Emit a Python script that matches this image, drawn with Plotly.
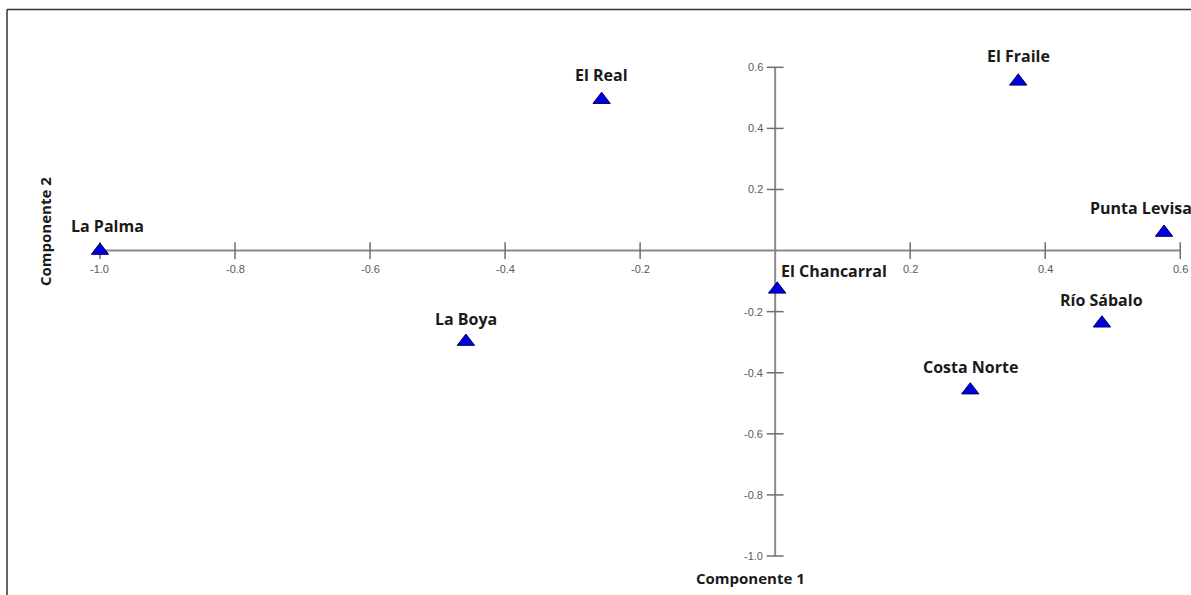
import plotly.graph_objects as go

# ---- data ----
sites = ["La Palma", "El Real", "El Fraile", "Punta Levisa", "El Chancarral",
         "Río Sábalo", "La Boya", "Costa Norte"]
comp1 = [-1.0, -0.257, 0.360, 0.576, 0.003, 0.484, -0.458, 0.289]
comp2 = [0.0, 0.494, 0.554, 0.059, -0.127, -0.238, -0.298, -0.457]

x_ticks = [-1.0, -0.8, -0.6, -0.4, -0.2, 0.2, 0.4, 0.6]
x_tick_labels = ["-1.0", "-0.8", "-0.6", "-0.4", "-0.2", "0.2", "0.4", "0.6"]
y_ticks = [0.6, 0.4, 0.2, -0.2, -0.4, -0.6, -0.8, -1.0]
y_tick_labels = ["0.6", "0.4", "0.2", "-0.2", "-0.4", "-0.6", "-0.8", "-1.0"]

x_title = "Componente 1"
y_title = "Componente 2"

# ---- styling ----
W, H = 1191, 595
ML, MR, MT, MB = 70, 0, 20, 35
XR = [-1.0444, 0.6159]
YR = [-1.0131, 0.7549]
pw = W - ML - MR
ph = H - MT - MB

label_font = dict(family="Open Sans", size=16, color="#1a1a1a")
tick_font = dict(family="Liberation Sans", size=11, color="#5a5a5a")
axis_color = "#8a8a8a"
tick_color = "#6e6e6e"

# per-label offsets (xshift, yshift, xanchor)
label_style = {
    "La Palma": (8, 25, "center"),
    "Punta Levisa": (-23, 25, "center"),
    "El Chancarral": (2, 18, "left"),
    "El Fraile": (0, 25, "center"),
    "El Real": (0, 25, "center"),
}
default_style = (0, 23, "center")

fig = go.Figure()

# axis lines through the origin, spanning the tick ranges
fig.add_shape(type="line", x0=min(x_ticks), x1=max(x_ticks), y0=0, y1=0,
              line=dict(color=axis_color, width=2), layer="below")
fig.add_shape(type="line", x0=0, x1=0, y0=min(y_ticks), y1=max(y_ticks),
              line=dict(color=axis_color, width=2), layer="below")

# tick marks
fig.add_trace(go.Scatter(x=x_ticks, y=[0] * len(x_ticks), mode="markers",
                         marker=dict(symbol="line-ns", size=12,
                                     line=dict(color=tick_color, width=1.5)),
                         hoverinfo="skip", showlegend=False))
fig.add_trace(go.Scatter(x=[0] * len(y_ticks), y=y_ticks, mode="markers",
                         marker=dict(symbol="line-ew", size=12,
                                     line=dict(color=tick_color, width=1.5)),
                         hoverinfo="skip", showlegend=False))

# tick labels
for t, lab in zip(x_ticks, x_tick_labels):
    fig.add_annotation(x=t, y=0, text=lab, showarrow=False, yshift=-18,
                       xanchor="center", yanchor="middle", font=tick_font)
for t, lab in zip(y_ticks, y_tick_labels):
    fig.add_annotation(x=0, y=t, text=lab, showarrow=False, xshift=-10,
                       xanchor="right", yanchor="middle", font=tick_font)

# points
fig.add_trace(go.Scatter(x=comp1, y=comp2, mode="markers",
                         marker=dict(symbol="triangle-up", size=15, color="#0000DD",
                                     line=dict(color="#000060", width=1)),
                         text=sites, hoverinfo="text", showlegend=False))

for name, xv, yv in zip(sites, comp1, comp2):
    xs, ys, xa = label_style.get(name, default_style)
    fig.add_annotation(x=xv, y=yv, text="<b>%s</b>" % name, showarrow=False,
                       xshift=xs, yshift=ys, xanchor=xa, yanchor="middle",
                       font=label_font)

# axis titles
fig.add_annotation(xref="paper", yref="paper", x=(750 - ML) / pw, y=1 - (578 - MT) / ph,
                   text="<b>%s</b>" % x_title, showarrow=False,
                   xanchor="center", yanchor="middle",
                   font=dict(family="Open Sans", size=15, color="#1a1a1a"))
fig.add_annotation(xref="paper", yref="paper", x=(45 - ML) / pw, y=1 - (232 - MT) / ph,
                   text="<b>%s</b>" % y_title, showarrow=False, textangle=-90,
                   xanchor="center", yanchor="middle",
                   font=dict(family="Open Sans", size=15, color="#1a1a1a"))

# outer frame (top and left edges)
fx = (7 - ML) / pw
fy_top = 1 + (MT - 9.5) / ph
fy_bot = 1 - (H + 5 - MT) / ph
fig.add_shape(type="line", xref="paper", yref="paper", x0=fx, x1=1.05, y0=fy_top, y1=fy_top,
              line=dict(color="#333333", width=1.5))
fig.add_shape(type="line", xref="paper", yref="paper", x0=fx, x1=fx, y0=fy_top, y1=fy_bot,
              line=dict(color="#333333", width=1.5))

fig.update_layout(
    width=W, height=H,
    margin=dict(l=ML, r=MR, t=MT, b=MB),
    paper_bgcolor="white", plot_bgcolor="white",
    xaxis=dict(range=XR, visible=False, fixedrange=True),
    yaxis=dict(range=YR, visible=False, fixedrange=True),
    showlegend=False,
)

fig.write_html("out.html", config={"displayModeBar": False},
               post_script="document.body.style.margin='0';")
